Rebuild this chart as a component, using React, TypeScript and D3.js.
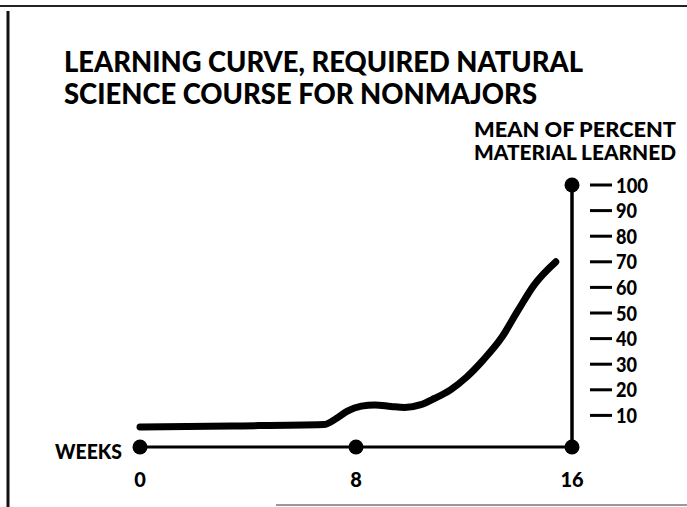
import React, { useEffect, useRef } from "react";
import * as d3 from "d3";

const W = 687;
const H = 507;
const BASE_Y = 447;
const FONT = "Lato, 'Open Sans', sans-serif";

// curve
const weeks = [0, 3.4, 6.8, 7.3, 7.7, 8.2, 8.7, 9.3, 9.8, 10.4, 10.9, 11.5, 12.1, 12.7, 13.4, 14.0, 14.6, 15.4];
const percent = [5.5, 5.9, 6.4, 9.0, 11.8, 13.6, 14.1, 13.5, 13.1, 14.2, 16.6, 20, 25, 31.5, 40.5, 51, 61, 70];

const weekTicks = [0, 8, 16];
const percentTicks = [10, 20, 30, 40, 50, 60, 70, 80, 90, 100];

const titleLines = ["LEARNING CURVE, REQUIRED NATURAL", "SCIENCE COURSE FOR NONMAJORS"];
const axisTitleLines = ["MEAN OF PERCENT", "MATERIAL LEARNED"];

export default function App() {
  const ref = useRef<SVGSVGElement>(null);

  useEffect(() => {
    document.body.style.margin = "0";
    const svg = d3.select(ref.current);
    svg.selectAll("*").remove();

    const x = d3.scaleLinear().domain([0, 16]).range([140, 572]);
    const y = d3.scaleLinear().domain([0, 100]).range([441, 185]);

    svg.append("rect").attr("width", W).attr("height", H).attr("fill", "#fff");

    // scan frame
    svg.append("line").attr("x1", 0).attr("x2", W).attr("y1", 6).attr("y2", 6)
      .attr("stroke", "#222").attr("stroke-width", 2);
    svg.append("line").attr("x1", 8).attr("x2", 8).attr("y1", 11).attr("y2", H)
      .attr("stroke", "#111").attr("stroke-width", 3);
    svg.append("line").attr("x1", 276).attr("x2", W).attr("y1", 505).attr("y2", 505)
      .attr("stroke", "#999").attr("stroke-width", 2);

    // title
    titleLines.forEach((t, i) => {
      svg.append("text")
        .attr("x", 64).attr("y", 72 + i * 32)
        .attr("font-family", FONT).attr("font-weight", 900).attr("font-size", 28)
        .attr("textLength", i === 0 ? 519 : 473).attr("lengthAdjust", "spacingAndGlyphs")
        .attr("fill", "#000").text(t);
    });

    axisTitleLines.forEach((t, i) => {
      svg.append("text")
        .attr("x", 474).attr("y", 137 + i * 23)
        .attr("font-family", FONT).attr("font-weight", 900).attr("font-size", 20)
        .attr("textLength", 202).attr("lengthAdjust", "spacingAndGlyphs")
        .attr("fill", "#000").text(t);
    });

    // vertical axis
    svg.append("line")
      .attr("x1", x(16)).attr("x2", x(16)).attr("y1", y(100)).attr("y2", BASE_Y)
      .attr("stroke", "#000").attr("stroke-width", 3.5);

    const ticks = svg.append("g");
    ticks.selectAll("line").data(percentTicks).enter().append("line")
      .attr("x1", 590).attr("x2", 612)
      .attr("y1", (d) => y(d)).attr("y2", (d) => y(d))
      .attr("stroke", "#000").attr("stroke-width", 3);
    ticks.selectAll("text").data(percentTicks).enter().append("text")
      .attr("x", 616).attr("y", (d) => y(d) + 7.5)
      .attr("font-family", FONT).attr("font-weight", 900).attr("font-size", 21)
      .attr("textLength", (d) => (d === 100 ? 32 : 21)).attr("lengthAdjust", "spacingAndGlyphs")
      .text((d) => d);

    // horizontal axis
    svg.append("line")
      .attr("x1", x(0)).attr("x2", x(16)).attr("y1", BASE_Y).attr("y2", BASE_Y)
      .attr("stroke", "#000").attr("stroke-width", 3);

    svg.append("text")
      .attr("x", 55).attr("y", 459)
      .attr("font-family", FONT).attr("font-weight", 900).attr("font-size", 21)
      .attr("textLength", 67).attr("lengthAdjust", "spacingAndGlyphs")
      .text("WEEKS");

    svg.selectAll(".wk").data(weekTicks).enter().append("text")
      .attr("class", "wk")
      .attr("x", (d) => x(d)).attr("y", 487)
      .attr("text-anchor", "middle")
      .attr("font-family", FONT).attr("font-weight", 900).attr("font-size", 20)
      .text((d) => d);

    // dots
    const dots = [
      { cx: x(0), cy: BASE_Y },
      { cx: x(8), cy: BASE_Y },
      { cx: x(16), cy: BASE_Y },
      { cx: x(16), cy: y(100) },
    ];
    svg.selectAll("circle").data(dots).enter().append("circle")
      .attr("cx", (d) => d.cx).attr("cy", (d) => d.cy).attr("r", 7.5)
      .attr("fill", "#000");

    // learning curve
    const pts = weeks.map((w, i) => [w, percent[i]] as [number, number]);
    const line = d3.line<[number, number]>()
      .x((d) => x(d[0]))
      .y((d) => y(d[1]))
      .curve(d3.curveMonotoneX);
    svg.append("path")
      .attr("d", line(pts))
      .attr("fill", "none").attr("stroke", "#000")
      .attr("stroke-width", 7).attr("stroke-linecap", "round").attr("stroke-linejoin", "round");
  }, []);

  return <svg ref={ref} width={W} height={H} style={{ display: "block" }} />;
}
